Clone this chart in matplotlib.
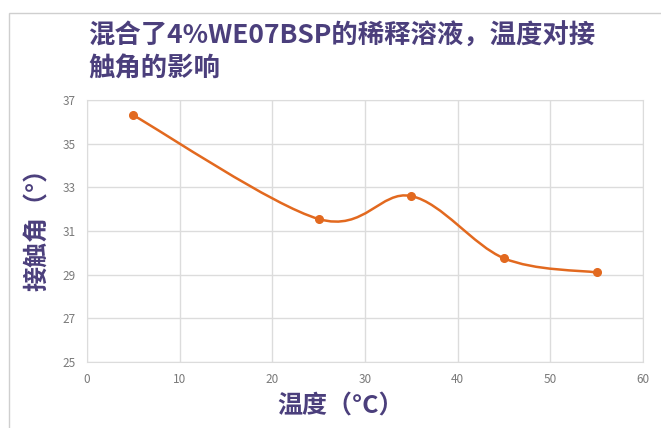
import numpy as np
import matplotlib.pyplot as plt
from matplotlib.path import Path
from matplotlib.patches import PathPatch, Rectangle

plt.rcParams['font.family'] = ['Noto Sans CJK SC', 'DejaVu Sans']

# data
temperature = [5, 25, 35, 45, 55]
contact_angle = [36.3, 31.55, 32.6, 29.75, 29.1]
title = '混合了4%WE07BSP的稀释溶液，温度对接\n触角的影响'
xlabel = '温度（°C）'
ylabel = '接触角（°）'

purple = '#4b3f7c'
orange = '#e2691f'


def smooth_path(x, y):
    """Excel-like smoothed line: Catmull-Rom turned into cubic Bezier pieces."""
    x = np.asarray(x, float)
    y = np.asarray(y, float)
    px = np.concatenate([[x[0]], x, [x[-1]]])
    py = np.concatenate([[y[0]], y, [y[-1]]])
    verts = [(x[0], y[0])]
    codes = [Path.MOVETO]
    for i in range(1, len(px) - 2):
        c1 = (px[i] + (px[i + 1] - px[i - 1]) / 6, py[i] + (py[i + 1] - py[i - 1]) / 6)
        c2 = (px[i + 1] - (px[i + 2] - px[i]) / 6, py[i + 1] - (py[i + 2] - py[i]) / 6)
        verts += [c1, c2, (px[i + 1], py[i + 1])]
        codes += [Path.CURVE4] * 3
    return Path(verts, codes)


fig = plt.figure(figsize=(6.61, 4.28), dpi=100)
fig.patches.append(Rectangle((9 / 661, -0.1), 1.2, (428 - 13) / 428 + 0.1,
                             transform=fig.transFigure, fill=False,
                             edgecolor='#cfcfcf', linewidth=1.0))
ax = fig.add_axes([87 / 661, (428 - 362) / 428, (643 - 87) / 661, (362 - 100) / 428])

ax.add_patch(PathPatch(smooth_path(temperature, contact_angle), facecolor='none',
                       edgecolor=orange, linewidth=1.8, zorder=3))
ax.plot(temperature, contact_angle, 'o', color=orange, markersize=5.5, zorder=4)

ax.set_xlim(0, 60)
ax.set_ylim(25, 37)
ax.set_xticks(range(0, 61, 10))
ax.set_yticks(range(25, 38, 2))
ax.grid(True, color='#dcdcdc', linewidth=1.0)
ax.set_axisbelow(True)
for s in ax.spines.values():
    s.set_color('#dcdcdc')
ax.tick_params(length=0, labelsize=8.5, colors='#7a7a7a', pad=8)

fig.text(341 / 661, 1 - 407 / 428, xlabel, ha='center', va='center', fontsize=18,
         fontweight='bold', color=purple)
fig.text(38 / 661, 1 - 223 / 428, ylabel, ha='center', va='center', fontsize=18,
         fontweight='bold', color=purple, rotation=90)

fig.text(88 / 661, 1 - 23 / 428, title, ha='left', va='top', fontsize=19,
         fontweight='bold', color=purple, linespacing=1.28)

fig.savefig('out.png', dpi=100)
